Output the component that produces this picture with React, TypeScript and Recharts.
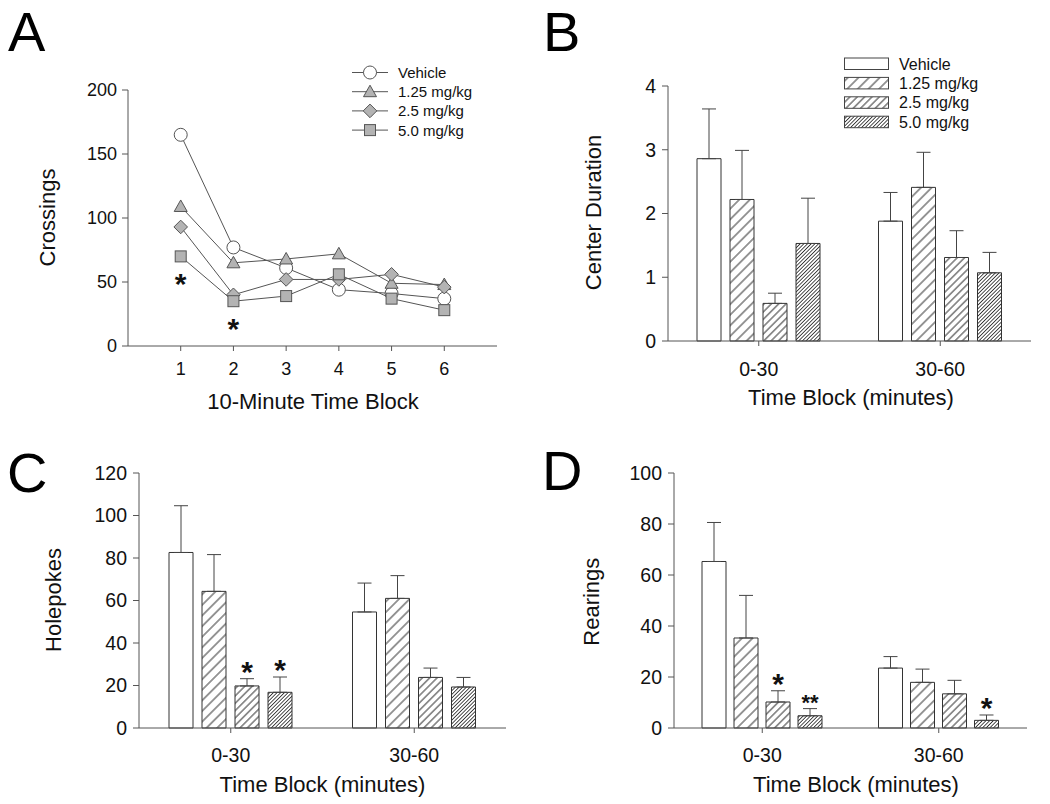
import React from 'react';
import { LineChart, Line, BarChart, Bar, XAxis, YAxis, ErrorBar, LabelList, Legend } from 'recharts';

const FONT = '"Liberation Sans", Arial, sans-serif';
const AXIS = '#555';
const INK = '#111';

const doses = ['Vehicle', '1.25 mg/kg', '2.5 mg/kg', '5.0 mg/kg'];

// A: crossings per 10-minute block
const blocks = [1, 2, 3, 4, 5, 6];
const crossVehicle = [165, 77, 61, 44, 41, 37];
const cross125 = [109, 65, 68, 72, 49, 48];
const cross25 = [93, 40, 52, 52, 56, 46];
const cross50 = [70, 35, 39, 56, 37, 28];
const crossSig = ['*', '*', '', '', '', ''];
const crossTicks = [0, 50, 100, 150, 200];
const blockTicks = [1, 2, 3, 4, 5, 6];

// B, C, D: two 30-minute blocks, one row per block, one entry per dose
const timeBlocks = ['0-30', '30-60'];

const centerMean = [[2.86, 2.22, 0.59, 1.53], [1.88, 2.41, 1.31, 1.07]];
const centerSem = [[0.78, 0.77, 0.16, 0.71], [0.45, 0.55, 0.42, 0.32]];
const centerTicks = [0, 1, 2, 3, 4];

const holeMean = [[82.6, 64.3, 19.8, 16.8], [54.6, 61.0, 23.8, 19.3]];
const holeSem = [[22.0, 17.3, 3.4, 7.2], [13.6, 10.7, 4.4, 4.5]];
const holeSig = [['', '', '*', '*'], ['', '', '', '']];
const holeTicks = [0, 20, 40, 60, 80, 100, 120];

const rearMean = [[65.3, 35.3, 10.2, 4.8], [23.5, 17.9, 13.4, 3.0]];
const rearSem = [[15.3, 16.7, 4.4, 2.8], [4.5, 5.2, 5.3, 2.1]];
const rearSig = [['', '', '*', '**'], ['', '', '', '*']];
const rearTicks = [0, 20, 40, 60, 80, 100];

const crossData = blocks.map((b, i) => ({
  block: b,
  s0: crossVehicle[i],
  s1: cross125[i],
  s2: cross25[i],
  s3: cross50[i],
  sig: crossSig[i],
}));

const buildRows = (mean: number[][], sem: number[][], sig?: string[][]) =>
  timeBlocks.map((t, i) => {
    const row: any = { block: t };
    doses.forEach((_, d) => {
      row[`m${d}`] = mean[i][d];
      row[`e${d}`] = [0, sem[i][d]];
      row[`s${d}`] = sig ? sig[i][d] : '';
    });
    return row;
  });

const hatchSpacing = [7.5, 5.2, 2.6];

const hatchPatterns = (id: string) =>
  hatchSpacing.map((w, k) => (
    <pattern
      key={k}
      id={`${id}-h${k + 1}`}
      width={w}
      height={w}
      patternUnits="userSpaceOnUse"
      patternTransform="rotate(45)"
    >
      <rect width={w} height={w} fill="#fff" />
      <line x1={w / 2} y1={0} x2={w / 2} y2={w} stroke="#333" strokeWidth={k === 2 ? 0.9 : 1} />
    </pattern>
  ));

const fillFor = (id: string, d: number) => (d === 0 ? '#fff' : `url(#${id}-h${d})`);

const markerFill = ['#fff', '#b3b3b3', '#b3b3b3', '#b3b3b3'];

const drawMarker = (k: number, cx: number, cy: number, key?: string) => {
  const common = { fill: markerFill[k], stroke: '#555', strokeWidth: 1 };
  if (k === 0) return <circle key={key} cx={cx} cy={cy} r={6.5} {...common} />;
  if (k === 1)
    return (
      <polygon
        key={key}
        points={`${cx},${cy - 6.5} ${cx + 6.5},${cy + 5} ${cx - 6.5},${cy + 5}`}
        {...common}
      />
    );
  if (k === 2)
    return (
      <polygon
        key={key}
        points={`${cx},${cy - 6.8} ${cx + 6.8},${cy} ${cx},${cy + 6.8} ${cx - 6.8},${cy}`}
        {...common}
      />
    );
  return <rect key={key} x={cx - 5.5} y={cy - 5.5} width={11} height={11} {...common} />;
};

const tickA = { fontFamily: FONT, fontSize: 18, fill: INK };
const tickBar = { fontFamily: FONT, fontSize: 19.5, fill: INK };

const crossLegend = () => (
  <svg width={170} height={84} style={{ overflow: 'visible' }}>
    {doses.map((name, k) => {
      const cy = 12.5 + k * 19.2;
      return (
        <g key={name}>
          <line x1={7} y1={cy} x2={43} y2={cy} stroke="#555" strokeWidth={1} />
          {drawMarker(k, 25, cy)}
          <text x={53} y={cy + 5.4} fontFamily={FONT} fontSize={15} fill={INK}>
            {name}
          </text>
        </g>
      );
    })}
  </svg>
);

const barLegend = (id: string) => () => (
  <svg width={180} height={84} style={{ overflow: 'visible' }}>
    {doses.map((name, k) => {
      const y = 3 + k * 19.4;
      return (
        <g key={name}>
          <rect x={0.5} y={y} width={44} height={11.5} fill={fillFor(id, k)} stroke="#444" strokeWidth={1} />
          <text x={55} y={y + 11.5} fontFamily={FONT} fontSize={16} fill={INK}>
            {name}
          </text>
        </g>
      );
    })}
  </svg>
);

const crossStar = (p: any) => {
  if (!p.value) return null;
  return (
    <text x={p.x} y={p.y + 38} textAnchor="middle" fontFamily={FONT} fontWeight="bold" fontSize={30} fill={INK}>
      {p.value}
    </text>
  );
};

const barStar = (mean: number[][], sem: number[][], d: number) => (p: any) => {
  if (!p.value) return null;
  const vb = p.viewBox || {};
  const x = vb.x ?? p.x;
  const y = vb.y ?? p.y;
  const w = vb.width ?? p.width;
  const h = vb.height ?? p.height;
  const m = mean[p.index][d];
  const top = y - sem[p.index][d] * (h / m);
  const small = String(p.value).length > 1;
  return (
    <text
      x={x + w / 2}
      y={top + (small ? 1 : 3)}
      textAnchor="middle"
      fontFamily={FONT}
      fontWeight="bold"
      fontSize={small ? 22 : 30}
      fill={INK}
    >
      {p.value}
    </text>
  );
};

const CrossingsPanel = () => (
  <div style={{ position: 'absolute', left: 0, top: 0 }}>
    <LineChart width={520} height={420} data={crossData} margin={{ top: 90, left: 68, right: 23, bottom: 34 }}>
      <XAxis
        dataKey="block"
        type="number"
        domain={[0, 7]}
        ticks={blockTicks}
        axisLine={{ stroke: AXIS }}
        tickLine={{ stroke: AXIS }}
        tickSize={5}
        tickMargin={11}
        height={40}
        tick={tickA}
      />
      <YAxis
        domain={[0, 200]}
        ticks={crossTicks}
        axisLine={{ stroke: AXIS }}
        tickLine={{ stroke: AXIS }}
        tickSize={6}
        tickMargin={5}
        width={60}
        tick={tickA}
      />
      {doses.map((name, k) => (
        <Line
          key={name}
          dataKey={`s${k}`}
          name={name}
          stroke="#555"
          strokeWidth={1}
          isAnimationActive={false}
          dot={(p: any) => drawMarker(k, p.cx, p.cy, `d${k}-${p.index}`)}
          activeDot={false}
        >
          {k === 3 && <LabelList dataKey="sig" content={crossStar} />}
        </Line>
      ))}
      <Legend
        layout="vertical"
        align="center"
        verticalAlign="middle"
        content={crossLegend}
        wrapperStyle={{ left: 345, top: 60, width: 170, height: 84 }}
      />
    </LineChart>
  </div>
);

type BarPanelProps = {
  id: string;
  left: number;
  top: number;
  width: number;
  height: number;
  margin: { top: number; left: number; right: number; bottom: number };
  mean: number[][];
  sem: number[][];
  sig?: string[][];
  ticks: number[];
  barGap: number;
  xTickMargin: number;
  legendAt?: { left: number; top: number };
};

const BarPanel = ({ id, left, top, width, height, margin, mean, sem, sig, ticks, barGap, xTickMargin, legendAt }: BarPanelProps) => {
  const rows = buildRows(mean, sem, sig);
  return (
    <div style={{ position: 'absolute', left, top }}>
      <BarChart width={width} height={height} data={rows} margin={margin} barGap={barGap} barSize={24}>
        <defs>{hatchPatterns(id)}</defs>
        <XAxis
          dataKey="block"
          axisLine={{ stroke: AXIS }}
          tickLine={{ stroke: AXIS }}
          tickSize={5}
          tickMargin={xTickMargin}
          height={40}
          tick={tickBar}
        />
        <YAxis
          domain={[0, ticks[ticks.length - 1]]}
          ticks={ticks}
          axisLine={{ stroke: AXIS }}
          tickLine={{ stroke: AXIS }}
          tickSize={6}
          tickMargin={6}
          width={60}
          tick={tickBar}
        />
        {doses.map((name, d) => (
          <Bar key={name} dataKey={`m${d}`} name={name} fill={fillFor(id, d)} stroke="#333" strokeWidth={1} isAnimationActive={false}>
            <ErrorBar dataKey={`e${d}`} width={7} stroke="#444" strokeWidth={1} />
            {sig && <LabelList dataKey={`s${d}`} content={barStar(mean, sem, d)} />}
          </Bar>
        ))}
        {legendAt && (
          <Legend
            layout="vertical"
            align="center"
            verticalAlign="middle"
            content={barLegend(id)}
            wrapperStyle={{ left: legendAt.left, top: legendAt.top, width: 180, height: 84 }}
          />
        )}
      </BarChart>
    </div>
  );
};

const titles = [
  { t: 'Crossings', x: 47, y: 217.5, rot: true },
  { t: '10-Minute Time Block', x: 313, y: 409 },
  { t: 'Center Duration', x: 593, y: 212.5, rot: true },
  { t: 'Time Block (minutes)', x: 851, y: 405 },
  { t: 'Holepokes', x: 53, y: 600, rot: true },
  { t: 'Time Block (minutes)', x: 322.5, y: 792 },
  { t: 'Rearings', x: 592, y: 601.7, rot: true },
  { t: 'Time Block (minutes)', x: 856, y: 792 },
];

const letters = [
  { t: 'A', x: 8, y: 51 },
  { t: 'B', x: 543, y: 51 },
  { t: 'C', x: 7, y: 492 },
  { t: 'D', x: 542, y: 490 },
];

export default function App() {
  return (
    <div style={{ position: 'absolute', left: 0, top: 0, width: 1050, height: 804, background: '#fff' }}>
      <CrossingsPanel />
      <BarPanel
        id="cd"
        left={520}
        top={0}
        width={530}
        height={420}
        margin={{ top: 86, left: 88, right: 19, bottom: 39 }}
        mean={centerMean}
        sem={centerSem}
        ticks={centerTicks}
        barGap={9}
        xTickMargin={16}
        legendAt={{ left: 324, top: 55 }}
      />
      <BarPanel
        id="hp"
        left={0}
        top={420}
        width={520}
        height={384}
        margin={{ top: 53, left: 79, right: 14, bottom: 36 }}
        mean={holeMean}
        sem={holeSem}
        sig={holeSig}
        ticks={holeTicks}
        barGap={9}
        xTickMargin={15}
      />
      <BarPanel
        id="rr"
        left={520}
        top={420}
        width={530}
        height={384}
        margin={{ top: 53, left: 94, right: 23, bottom: 36 }}
        mean={rearMean}
        sem={rearSem}
        sig={rearSig}
        ticks={rearTicks}
        barGap={8}
        xTickMargin={15}
      />
      <svg width={1050} height={804} style={{ position: 'absolute', left: 0, top: 0, pointerEvents: 'none' }}>
        {letters.map((l) => (
          <text key={l.t} x={l.x} y={l.y} fontFamily={FONT} fontSize={56} fill="#000">
            {l.t}
          </text>
        ))}
        {titles.map((t, i) => (
          <text
            key={i}
            x={t.x}
            y={t.y}
            textAnchor="middle"
            dominantBaseline={t.rot ? 'central' : undefined}
            transform={t.rot ? `rotate(-90 ${t.x} ${t.y})` : undefined}
            fontFamily={FONT}
            fontSize={22}
            fill={INK}
          >
            {t.t}
          </text>
        ))}
      </svg>
    </div>
  );
}
